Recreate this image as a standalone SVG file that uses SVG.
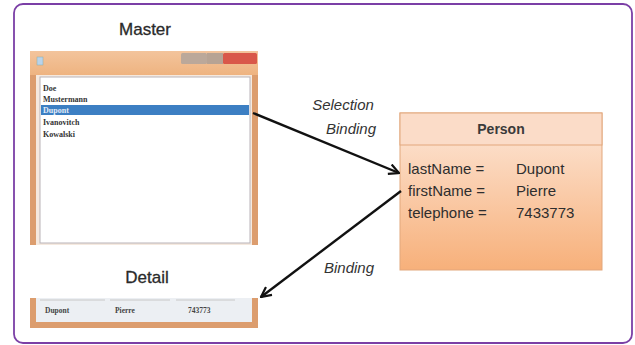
<svg xmlns="http://www.w3.org/2000/svg" width="635" height="345" viewBox="0 0 635 345">
  <defs>
    <linearGradient id="titleGrad" x1="0" y1="0" x2="0" y2="1">
      <stop offset="0" stop-color="#f3c49c"/>
      <stop offset="1" stop-color="#eeb27e"/>
    </linearGradient>
    <linearGradient id="personGrad" x1="0" y1="0" x2="0" y2="1">
      <stop offset="0" stop-color="#fde8da"/>
      <stop offset="1" stop-color="#f7b07a"/>
    </linearGradient>
    <marker id="arrowOpen" viewBox="0 0 12 12" refX="11" refY="6" markerWidth="12" markerHeight="12" markerUnits="userSpaceOnUse" orient="auto">
      <path d="M1,1 L11,6 L1,11" fill="none" stroke="#111" stroke-width="2.2" stroke-linejoin="miter"/>
    </marker>
  </defs>
  <style>
    .caption { font-family: "Liberation Sans", Arial, sans-serif; font-size: 17px; fill: #2a2a2a; stroke: #2a2a2a; stroke-width: 0.3px; }
    .edgeLabel { font-family: "Liberation Sans", Arial, sans-serif; font-size: 15px; font-style: italic; fill: #333; }
    .frame { fill: #dc9d6e; }
    .listItem { font-family: "Liberation Serif", "Times New Roman", serif; font-size: 8px; font-weight: bold; fill: #333; }
    .person { font-family: "Liberation Sans", Arial, sans-serif; font-size: 15px; fill: #2e2e2e; }
    .personTitle { font-family: "Liberation Sans", Arial, sans-serif; font-size: 14px; font-weight: bold; fill: #3a3a3a; }
    .cell { font-family: "Liberation Serif", "Times New Roman", serif; font-size: 7.5px; font-weight: bold; fill: #444; }
    .connector { fill: none; stroke: #111; stroke-width: 2.4; marker-end: url(#arrowOpen); }
  </style>

  <!-- outer panel -->
  <rect x="14" y="4" width="618" height="339" rx="9" ry="9" fill="#ffffff" stroke="#7b3fa6" stroke-width="1.8"/>

  <!-- master window -->
  <g id="master">
    <text class="caption" x="145" y="35" text-anchor="middle">Master</text>
    <rect x="30" y="51" width="228" height="26" fill="url(#titleGrad)"/>
    <rect class="frame" x="30" y="75" width="6" height="170"/>
    <rect class="frame" x="252" y="75" width="6" height="170"/>
    <rect x="36" y="75" width="216" height="170" fill="#f5e9df"/>
    <!-- caption buttons -->
    <rect x="181" y="53" width="26" height="11" rx="1.5" fill="#bba89a"/>
    <rect x="207" y="53" width="16" height="11" fill="#b7a394"/>
    <rect x="223" y="53" width="34" height="11" rx="1.5" fill="#d9584a"/>
    <rect x="37" y="57" width="6" height="8" fill="#b9d3ea" stroke="#8aa" stroke-width="0.5"/>
    <!-- list box -->
    <rect x="40" y="77" width="210" height="166" fill="#ffffff" stroke="#b9b3b8" stroke-width="1"/>
    <rect x="41" y="105" width="208" height="10" fill="#3c7fc3"/>
    <text class="listItem" x="43" y="91">Doe</text>
    <text class="listItem" x="43" y="102">Mustermann</text>
    <text class="listItem" x="43" y="113" style="fill:#e3ecf8">Dupont</text>
    <text class="listItem" x="43" y="125">Ivanovitch</text>
    <text class="listItem" x="43" y="137">Kowalski</text>
  </g>

  <!-- detail window -->
  <g id="detail">
    <text class="caption" x="147" y="283" text-anchor="middle">Detail</text>
    <rect class="frame" x="30" y="298" width="6" height="30"/>
    <rect class="frame" x="252" y="298" width="6" height="30"/>
    <rect class="frame" x="30" y="322" width="228" height="6"/>
    <rect x="36" y="298" width="216" height="24" fill="#eceff3"/>
    <line x1="40" y1="300" x2="105" y2="300" stroke="#c8c8c8" stroke-width="1"/>
    <line x1="110" y1="300" x2="170" y2="300" stroke="#c8c8c8" stroke-width="1"/>
    <line x1="176" y1="300" x2="235" y2="300" stroke="#c8c8c8" stroke-width="1"/>
    <text class="cell" x="45" y="313">Dupont</text>
    <text class="cell" x="115" y="313">Pierre</text>
    <text class="cell" x="188" y="313">743773</text>
  </g>

  <!-- person object -->
  <g id="person">
    <rect x="400" y="113" width="202" height="157" fill="url(#personGrad)" stroke="#e2a77c" stroke-width="1"/>
    <rect x="400" y="113" width="202" height="32" fill="#fbdcc8" stroke="#e2a77c" stroke-width="1"/>
    <text class="personTitle" x="501" y="134" text-anchor="middle">Person</text>
    <text class="person" x="408" y="174">lastName =</text>
    <text class="person" x="516" y="174">Dupont</text>
    <text class="person" x="408" y="196">firstName =</text>
    <text class="person" x="516" y="196">Pierre</text>
    <text class="person" x="408" y="218">telephone =</text>
    <text class="person" x="516" y="218">7433773</text>
  </g>

  <!-- bindings -->
  <g id="connectors">
    <line class="connector" x1="253" y1="113" x2="399" y2="173"/>
    <line class="connector" x1="401" y1="191" x2="261" y2="297"/>
    <text class="edgeLabel" x="343" y="110" text-anchor="middle">Selection</text>
    <text class="edgeLabel" x="351" y="134" text-anchor="middle">Binding</text>
    <text class="edgeLabel" x="349" y="273" text-anchor="middle">Binding</text>
  </g>
</svg>
